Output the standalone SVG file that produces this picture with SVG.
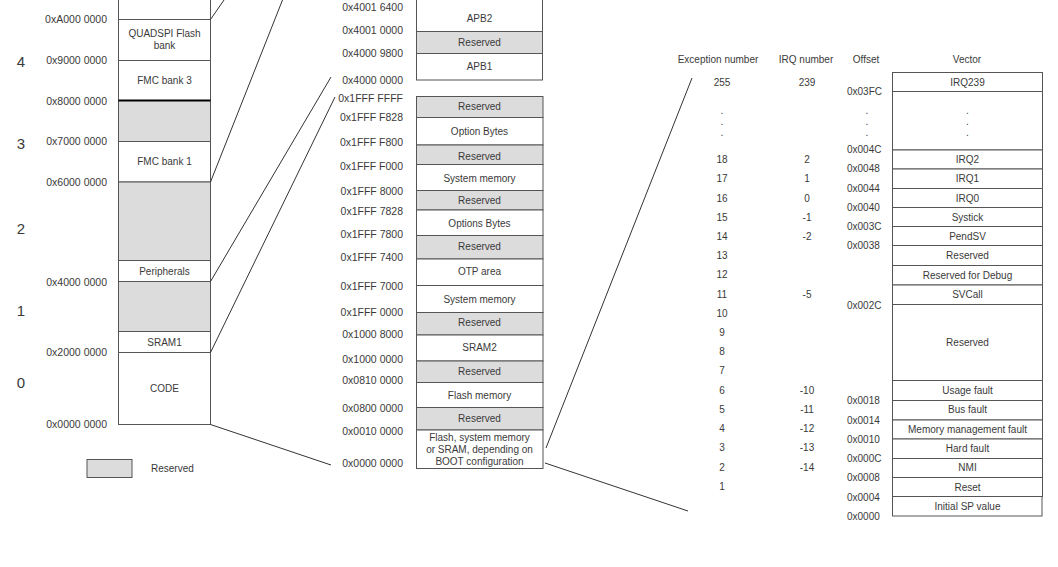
<svg xmlns="http://www.w3.org/2000/svg" width="1058" height="567" viewBox="0 0 1058 567">
  <style>
    text { font-family: "Liberation Sans", Arial, sans-serif; fill: #3a3a3a; }
    .t { font-size: 10px; text-anchor: middle; dominant-baseline: central; }
    .a { font-size: 10.5px; text-anchor: end; dominant-baseline: central; }
    .s { font-size: 10px; text-anchor: start; dominant-baseline: central; }
    .big { font-size: 15px; text-anchor: middle; dominant-baseline: central; }
    .cell { fill: #fff; stroke: #555; stroke-width: 1; }
    .res { fill: #dcdcdc; stroke: #555; stroke-width: 1; }
    .conn { fill: none; stroke: #333; stroke-width: 1; }
  </style>
  <rect width="1058" height="567" fill="#fff"/>

  <!-- Region numbers -->
  <g id="regions">
    <text class="big" x="21" y="61">4</text>
    <text class="big" x="21" y="143">3</text>
    <text class="big" x="21" y="228">2</text>
    <text class="big" x="21" y="310">1</text>
    <text class="big" x="21" y="382">0</text>
  </g>

  <!-- Global address map -->
  <g id="map-addresses">
    <text class="a" x="107" y="19">0xA000 0000</text>
    <text class="a" x="107" y="60">0x9000 0000</text>
    <text class="a" x="107" y="101">0x8000 0000</text>
    <text class="a" x="107" y="141">0x7000 0000</text>
    <text class="a" x="107" y="182">0x6000 0000</text>
    <text class="a" x="107" y="282">0x4000 0000</text>
    <text class="a" x="107" y="352">0x2000 0000</text>
    <text class="a" x="107" y="424">0x0000 0000</text>
  </g>
  <g id="map-top">
    <rect class="cell" x="118.5" y="-2" width="92" height="21.5"/>
  </g>
  <g id="map-quadspi">
    <rect class="cell" x="118.5" y="19.5" width="92" height="41"/>
    <text class="t" x="164.5" y="33">QUADSPI Flash</text>
    <text class="t" x="164.5" y="45">bank</text>
  </g>
  <g id="map-fmc3">
    <rect class="cell" x="118.5" y="60.5" width="92" height="40"/>
    <text class="t" x="164.5" y="80">FMC bank 3</text>
  </g>
  <g id="map-res3">
    <rect class="res" x="118.5" y="100.5" width="92" height="41"/>
    <line x1="118.5" y1="100.5" x2="210.5" y2="100.5" stroke="#000" stroke-width="2"/>
  </g>
  <g id="map-fmc1">
    <rect class="cell" x="118.5" y="141.5" width="92" height="40.5"/>
    <text class="t" x="164.5" y="161">FMC bank 1</text>
  </g>
  <g id="map-res2">
    <rect class="res" x="118.5" y="182" width="92" height="78.5"/>
  </g>
  <g id="map-periph">
    <rect class="cell" x="118.5" y="260.5" width="92" height="21"/>
    <text class="t" x="164.5" y="271">Peripherals</text>
  </g>
  <g id="map-res1">
    <rect class="res" x="118.5" y="281.5" width="92" height="50"/>
  </g>
  <g id="map-sram1">
    <rect class="cell" x="118.5" y="331.5" width="92" height="21"/>
    <text class="t" x="164.5" y="342">SRAM1</text>
  </g>
  <g id="map-code">
    <rect class="cell" x="118.5" y="352.5" width="92" height="72"/>
    <text class="t" x="164.5" y="388">CODE</text>
  </g>

  <!-- Legend -->
  <g id="legend">
    <rect class="res" x="87" y="459.5" width="45" height="18" stroke-width="1.2"/>
    <text class="s" x="151" y="468">Reserved</text>
  </g>

  <!-- Peripheral bus map -->
  <g id="bus-addresses">
    <text class="a" x="403" y="7">0x4001 6400</text>
    <text class="a" x="403" y="30">0x4001 0000</text>
    <text class="a" x="403" y="53">0x4000 9800</text>
    <text class="a" x="403" y="80">0x4000 0000</text>
  </g>
  <g id="bus-apb2">
    <path class="cell" d="M416.5 0 V31.5 H542.5 V0"/>
    <text class="t" x="479.5" y="18">APB2</text>
  </g>
  <g id="bus-res">
    <rect class="res" x="416.5" y="31.5" width="126" height="22"/>
    <text class="t" x="479.5" y="42">Reserved</text>
  </g>
  <g id="bus-apb1">
    <rect class="cell" x="416.5" y="53.5" width="126" height="26.5"/>
    <text class="t" x="479.5" y="66">APB1</text>
  </g>

  <!-- Code region map -->
  <g id="code-addresses">
    <text class="a" x="403" y="98">0x1FFF FFFF</text>
    <text class="a" x="403" y="117">0x1FFF F828</text>
    <text class="a" x="403" y="142">0x1FFF F800</text>
    <text class="a" x="403" y="166">0x1FFF F000</text>
    <text class="a" x="403" y="191">0x1FFF 8000</text>
    <text class="a" x="403" y="211">0x1FFF 7828</text>
    <text class="a" x="403" y="234">0x1FFF 7800</text>
    <text class="a" x="403" y="257">0x1FFF 7400</text>
    <text class="a" x="403" y="286">0x1FFF 7000</text>
    <text class="a" x="403" y="312">0x1FFF 0000</text>
    <text class="a" x="403" y="334">0x1000 8000</text>
    <text class="a" x="403" y="359">0x1000 0000</text>
    <text class="a" x="403" y="380">0x0810 0000</text>
    <text class="a" x="403" y="408">0x0800 0000</text>
    <text class="a" x="403" y="431">0x0010 0000</text>
    <text class="a" x="403" y="463">0x0000 0000</text>
  </g>
  <g id="code-res-top">
    <rect class="res" x="416.5" y="96.5" width="126.5" height="21"/>
    <text class="t" x="479.5" y="106">Reserved</text>
  </g>
  <g id="code-option-bytes">
    <rect class="cell" x="416.5" y="117.5" width="126.5" height="27.5"/>
    <text class="t" x="479.5" y="131">Option Bytes</text>
  </g>
  <g id="code-res-2">
    <rect class="res" x="416.5" y="145" width="126.5" height="19.5"/>
    <text class="t" x="479.5" y="156">Reserved</text>
  </g>
  <g id="code-sysmem-1">
    <rect class="cell" x="416.5" y="164.5" width="126.5" height="26"/>
    <text class="t" x="479.5" y="178">System memory</text>
  </g>
  <g id="code-res-3">
    <rect class="res" x="416.5" y="190.5" width="126.5" height="19.5"/>
    <text class="t" x="479.5" y="200">Reserved</text>
  </g>
  <g id="code-options-bytes">
    <rect class="cell" x="416.5" y="210" width="126.5" height="25.5"/>
    <text class="t" x="479.5" y="223">Options Bytes</text>
  </g>
  <g id="code-res-4">
    <rect class="res" x="416.5" y="235.5" width="126.5" height="23.5"/>
    <text class="t" x="479.5" y="246">Reserved</text>
  </g>
  <g id="code-otp">
    <rect class="cell" x="416.5" y="259" width="126.5" height="26.5"/>
    <text class="t" x="479.5" y="271">OTP area</text>
  </g>
  <g id="code-sysmem-2">
    <rect class="cell" x="416.5" y="285.5" width="126.5" height="27"/>
    <text class="t" x="479.5" y="299">System memory</text>
  </g>
  <g id="code-res-5">
    <rect class="res" x="416.5" y="312.5" width="126.5" height="22.5"/>
    <text class="t" x="479.5" y="322">Reserved</text>
  </g>
  <g id="code-sram2">
    <rect class="cell" x="416.5" y="335" width="126.5" height="26"/>
    <text class="t" x="479.5" y="347">SRAM2</text>
  </g>
  <g id="code-res-6">
    <rect class="res" x="416.5" y="361" width="126.5" height="21.5"/>
    <text class="t" x="479.5" y="371">Reserved</text>
  </g>
  <g id="code-flash">
    <rect class="cell" x="416.5" y="382.5" width="126.5" height="25"/>
    <text class="t" x="479.5" y="395">Flash memory</text>
  </g>
  <g id="code-res-7">
    <rect class="res" x="416.5" y="407.5" width="126.5" height="22.5"/>
    <text class="t" x="479.5" y="418">Reserved</text>
  </g>
  <g id="code-boot">
    <rect class="cell" x="416.5" y="430" width="126.5" height="38.5"/>
    <text class="t" x="479.5" y="437">Flash, system memory</text>
    <text class="t" x="479.5" y="449">or SRAM, depending on</text>
    <text class="t" x="479.5" y="461">BOOT configuration</text>
  </g>

  <!-- Vector table -->
  <g id="vt-headers">
    <text class="t" x="718" y="59">Exception number</text>
    <text class="t" x="806" y="59">IRQ number</text>
    <text class="t" x="866" y="59">Offset</text>
    <text class="t" x="967" y="59">Vector</text>
  </g>
  <g id="vt-exceptions">
    <text class="t" x="722" y="82">255</text>
    <text class="t" x="722" y="110">.</text>
    <text class="t" x="722" y="121">.</text>
    <text class="t" x="722" y="132">.</text>
    <text class="t" x="722" y="159">18</text>
    <text class="t" x="722" y="178">17</text>
    <text class="t" x="722" y="198">16</text>
    <text class="t" x="722" y="217">15</text>
    <text class="t" x="722" y="236">14</text>
    <text class="t" x="722" y="255">13</text>
    <text class="t" x="722" y="274">12</text>
    <text class="t" x="722" y="294">11</text>
    <text class="t" x="722" y="313">10</text>
    <text class="t" x="722" y="332">9</text>
    <text class="t" x="722" y="351">8</text>
    <text class="t" x="722" y="370">7</text>
    <text class="t" x="722" y="390">6</text>
    <text class="t" x="722" y="409">5</text>
    <text class="t" x="722" y="428">4</text>
    <text class="t" x="722" y="447">3</text>
    <text class="t" x="722" y="467">2</text>
    <text class="t" x="722" y="486">1</text>
  </g>
  <g id="vt-irq">
    <text class="t" x="807" y="82">239</text>
    <text class="t" x="807" y="159">2</text>
    <text class="t" x="807" y="178">1</text>
    <text class="t" x="807" y="198">0</text>
    <text class="t" x="807" y="217">-1</text>
    <text class="t" x="807" y="236">-2</text>
    <text class="t" x="807" y="294">-5</text>
    <text class="t" x="807" y="390">-10</text>
    <text class="t" x="807" y="409">-11</text>
    <text class="t" x="807" y="428">-12</text>
    <text class="t" x="807" y="447">-13</text>
    <text class="t" x="807" y="467">-14</text>
  </g>
  <g id="vt-offsets">
    <text class="s" x="847" y="91">0x03FC</text>
    <text class="t" x="867" y="110">.</text>
    <text class="t" x="867" y="121">.</text>
    <text class="t" x="867" y="132">.</text>
    <text class="s" x="847" y="149">0x004C</text>
    <text class="s" x="847" y="168">0x0048</text>
    <text class="s" x="847" y="188">0x0044</text>
    <text class="s" x="847" y="207">0x0040</text>
    <text class="s" x="847" y="226">0x003C</text>
    <text class="s" x="847" y="245">0x0038</text>
    <text class="s" x="847" y="305">0x002C</text>
    <text class="s" x="847" y="400">0x0018</text>
    <text class="s" x="847" y="420">0x0014</text>
    <text class="s" x="847" y="439">0x0010</text>
    <text class="s" x="847" y="458">0x000C</text>
    <text class="s" x="847" y="477">0x0008</text>
    <text class="s" x="847" y="497">0x0004</text>
    <text class="s" x="847" y="516">0x0000</text>
  </g>
  <g id="vt-irq239">
    <rect class="cell" x="892.5" y="72.5" width="150" height="19"/>
    <text class="t" x="967.5" y="82">IRQ239</text>
  </g>
  <g id="vt-dots">
    <rect class="cell" x="892.5" y="91.5" width="150" height="58.5"/>
    <text class="t" x="967.5" y="110">.</text>
    <text class="t" x="967.5" y="121">.</text>
    <text class="t" x="967.5" y="132">.</text>
  </g>
  <g id="vt-irq2">
    <rect class="cell" x="892.5" y="150" width="150" height="19"/>
    <text class="t" x="967.5" y="159">IRQ2</text>
  </g>
  <g id="vt-irq1">
    <rect class="cell" x="892.5" y="169" width="150" height="19.5"/>
    <text class="t" x="967.5" y="178">IRQ1</text>
  </g>
  <g id="vt-irq0">
    <rect class="cell" x="892.5" y="188.5" width="150" height="19"/>
    <text class="t" x="967.5" y="198">IRQ0</text>
  </g>
  <g id="vt-systick">
    <rect class="cell" x="892.5" y="207.5" width="150" height="19"/>
    <text class="t" x="967.5" y="217">Systick</text>
  </g>
  <g id="vt-pendsv">
    <rect class="cell" x="892.5" y="226.5" width="150" height="19"/>
    <text class="t" x="967.5" y="236">PendSV</text>
  </g>
  <g id="vt-reserved-1">
    <rect class="cell" x="892.5" y="245.5" width="150" height="20"/>
    <text class="t" x="967.5" y="255">Reserved</text>
  </g>
  <g id="vt-debug">
    <rect class="cell" x="892.5" y="265.5" width="150" height="19.5"/>
    <text class="t" x="967.5" y="275">Reserved for Debug</text>
  </g>
  <g id="vt-svcall">
    <rect class="cell" x="892.5" y="285" width="150" height="19.5"/>
    <text class="t" x="967.5" y="294">SVCall</text>
  </g>
  <g id="vt-reserved-2">
    <rect class="cell" x="892.5" y="304.5" width="150" height="76"/>
    <text class="t" x="967.5" y="342">Reserved</text>
  </g>
  <g id="vt-usage">
    <rect class="cell" x="892.5" y="380.5" width="150" height="20"/>
    <text class="t" x="967.5" y="390">Usage fault</text>
  </g>
  <g id="vt-bus">
    <rect class="cell" x="892.5" y="400.5" width="150" height="19.5"/>
    <text class="t" x="967.5" y="409">Bus fault</text>
  </g>
  <g id="vt-mem">
    <rect class="cell" x="892.5" y="420" width="150" height="19"/>
    <text class="t" x="967.5" y="429">Memory management fault</text>
  </g>
  <g id="vt-hard">
    <rect class="cell" x="892.5" y="439" width="150" height="19.5"/>
    <text class="t" x="967.5" y="448">Hard fault</text>
  </g>
  <g id="vt-nmi">
    <rect class="cell" x="892.5" y="458.5" width="150" height="19"/>
    <text class="t" x="967.5" y="467">NMI</text>
  </g>
  <g id="vt-reset">
    <rect class="cell" x="892.5" y="477.5" width="150" height="19"/>
    <text class="t" x="967.5" y="487">Reset</text>
  </g>
  <g id="vt-sp">
    <rect class="cell" x="892.5" y="496.5" width="149.5" height="19.5"/>
    <text class="t" x="967.5" y="506">Initial SP value</text>
  </g>

  <!-- Zoom connectors -->
  <g id="connectors" class="conn">
    <line x1="210.5" y1="19.5" x2="224" y2="0"/>
    <line x1="210.5" y1="182" x2="282.5" y2="0"/>
    <line x1="210.5" y1="281.5" x2="331" y2="77"/>
    <line x1="210.5" y1="352.5" x2="335" y2="97"/>
    <line x1="210.5" y1="424.5" x2="331" y2="465"/>
    <line x1="546" y1="448" x2="692" y2="78"/>
    <line x1="545" y1="463" x2="688" y2="511"/>
  </g>
</svg>
